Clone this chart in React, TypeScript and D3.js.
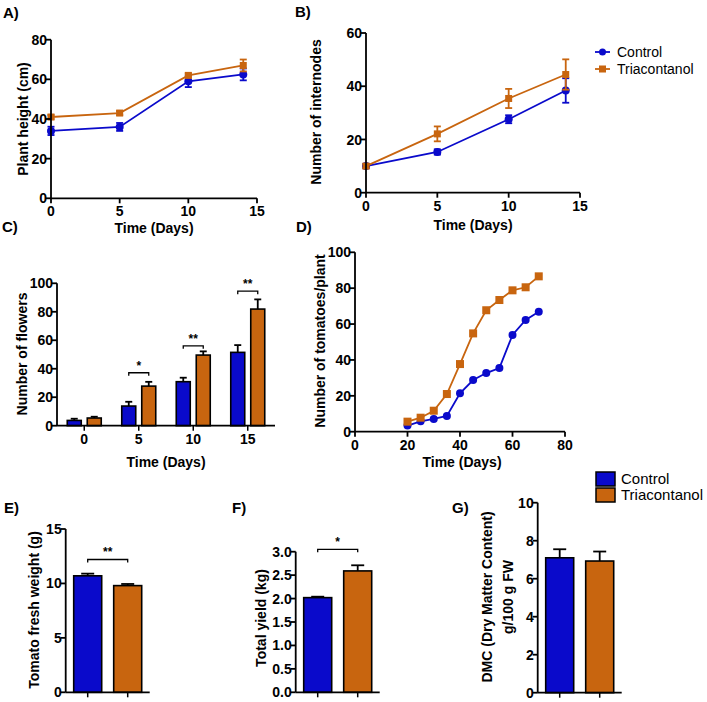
import React from 'react';
import * as d3 from 'd3';

const BLUE = '#0a0acb';
const ORANGE = '#c8650f';
const FONT = "'Liberation Sans', Arial, Helvetica, sans-serif";

// ---------- Data ----------
const seriesNames = ['Control', 'Triacontanol'];

// A) Plant height
const daysAB = [0, 5, 10, 14];
const heightControl = [34, 36, 59, 62.5];
const heightControlErr = [2.1, 2.0, 2.9, 3.0];
const heightTria = [41, 43, 62, 67];
const heightTriaErr = [1, 1, 1, 3];

// B) Internodes
const internodesControl = [10, 15.3, 27.6, 38.4];
const internodesControlErr = [0.8, 1, 1.5, 4.6];
const internodesTria = [10, 22.1, 35.4, 44.4];
const internodesTriaErr = [0.8, 2.8, 3.6, 5.7];

// C) Flowers
const flowerDays = ['0', '5', '10', '15'];
const flowersControl = [3.7, 13.8, 30.9, 51.5];
const flowersControlErr = [1.2, 3, 2.8, 5.1];
const flowersTria = [5.4, 27.8, 49.6, 81.9];
const flowersTriaErr = [0.9, 3, 2.6, 6.8];
const flowerSigDays = ['5', '10', '15'];
const flowerSigLabels = ['*', '**', '**'];
const flowerSigLevels = [37.2, 56.1, 94.5];

// D) Tomatoes per plant
const tomatoDays = [20, 25, 30, 35, 40, 45, 50, 55, 60, 65, 70];
const tomatoesControl = [3.4, 5.8, 7.1, 8.8, 21.4, 28.8, 32.7, 35.5, 53.9, 62.3, 66.9];
const tomatoesTria = [5.6, 7.8, 11.7, 21, 37.7, 54.8, 67.7, 73.4, 78.8, 80.5, 86.6];

// E) Fresh weight
const freshWeight = [10.7, 9.8];
const freshWeightErr = [0.2, 0.15];
const freshWeightSig = '**';
const freshWeightSigLevel = 12.2;

// F) Total yield
const totalYield = [2.02, 2.59];
const totalYieldErr = [0.02, 0.12];
const totalYieldSig = '*';
const totalYieldSigLevel = 3.05;

// G) DMC
const dmc = [7.1, 6.93];
const dmcErr = [0.45, 0.5];

const colors = [BLUE, ORANGE];

// ---------- Helpers ----------
type Lin = d3.ScaleLinear<number, number>;

function YAxis({ y, x0, ticks, fmt }: { y: Lin; x0: number; ticks: number[]; fmt?: (v: number) => string }) {
  const [d0, d1] = y.domain();
  return (
    <g>
      <line x1={x0} x2={x0} y1={y(d0)} y2={y(d1)} stroke="#000" strokeWidth={1.8} />
      {ticks.map((t) => (
        <g key={t}>
          <line x1={x0 - 5} x2={x0} y1={y(t)} y2={y(t)} stroke="#000" strokeWidth={1.8} />
          <text x={x0 - 4} y={y(t)} dy="0.36em" textAnchor="end" fontSize={14} fontWeight="bold">
            {fmt ? fmt(t) : String(t)}
          </text>
        </g>
      ))}
    </g>
  );
}

function XAxis({ x, y0, ticks }: { x: Lin; y0: number; ticks: number[] }) {
  const [r0, r1] = x.range();
  return (
    <g>
      <line x1={r0} x2={r1} y1={y0} y2={y0} stroke="#000" strokeWidth={1.8} />
      {ticks.map((t) => (
        <g key={t}>
          <line x1={x(t)} x2={x(t)} y1={y0} y2={y0 + 5} stroke="#000" strokeWidth={1.8} />
          <text x={x(t)} y={y0 + 18} textAnchor="middle" fontSize={14} fontWeight="bold">
            {t}
          </text>
        </g>
      ))}
    </g>
  );
}

function YTitle({ x, y, lines }: { x: number; y: number; lines: string[] }) {
  return (
    <g transform={`translate(${x},${y}) rotate(-90)`}>
      {lines.map((l, i) => (
        <text key={i} x={0} y={(i - (lines.length - 1) / 2) * 21} dy="0.36em" textAnchor="middle" fontSize={14} fontWeight="bold">
          {l}
        </text>
      ))}
    </g>
  );
}

function Marker({ cx, cy, shape, color, size }: { cx: number; cy: number; shape: string; color: string; size: number }) {
  if (shape === 'circle') return <circle cx={cx} cy={cy} r={size / 2} fill={color} />;
  return <rect x={cx - size / 2} y={cy - size / 2} width={size} height={size} fill={color} />;
}

function LineSeries({
  xs, ys, errs, x, y, color, shape, size, lw,
}: {
  xs: number[]; ys: number[]; errs?: number[]; x: Lin; y: Lin; color: string; shape: string; size: number; lw: number;
}) {
  const pts = xs.map((d, i) => [d, ys[i]] as [number, number]);
  const path = d3.line<[number, number]>().x((d) => x(d[0])).y((d) => y(d[1]))(pts) || '';
  return (
    <g>
      <path d={path} fill="none" stroke={color} strokeWidth={lw} />
      {errs &&
        pts.map((p, i) => {
          const cx = x(p[0]);
          const top = y(p[1] + errs[i]);
          const bot = y(p[1] - errs[i]);
          return (
            <g key={'e' + i} stroke={color} strokeWidth={1.8}>
              <line x1={cx} x2={cx} y1={top} y2={bot} />
              <line x1={cx - 3.5} x2={cx + 3.5} y1={top} y2={top} />
              <line x1={cx - 3.5} x2={cx + 3.5} y1={bot} y2={bot} />
            </g>
          );
        })}
      {pts.map((p, i) => (
        <Marker key={i} cx={x(p[0])} cy={y(p[1])} shape={shape} color={color} size={size} />
      ))}
    </g>
  );
}

function Bar({ x0, w, y, v, e, color, cap }: { x0: number; w: number; y: Lin; v: number; e: number; color: string; cap: number }) {
  const cx = x0 + w / 2;
  return (
    <g>
      <line x1={cx} x2={cx} y1={y(v)} y2={y(v + e)} stroke="#000" strokeWidth={1.8} />
      <line x1={cx - cap / 2} x2={cx + cap / 2} y1={y(v + e)} y2={y(v + e)} stroke="#000" strokeWidth={1.8} />
      <rect x={x0} y={y(v)} width={w} height={y(0) - y(v)} fill={color} stroke="#000" strokeWidth={1.6} />
    </g>
  );
}

function SigBracket({ x1, x2, yy, label }: { x1: number; x2: number; yy: number; label: string }) {
  return (
    <g>
      <path d={`M${x1},${yy + 3}V${yy}H${x2}V${yy + 3}`} fill="none" stroke="#000" strokeWidth={1.3} />
      <text x={(x1 + x2) / 2} y={yy - 3} textAnchor="middle" fontSize={12} fontWeight="bold">
        {label}
      </text>
    </g>
  );
}

function TwoBarPanel({
  x0, y, values, errs, yTicks, fmt, sig, sigLevel,
}: {
  x0: number; y: Lin; values: number[]; errs: number[]; yTicks: number[]; fmt?: (v: number) => string; sig?: string; sigLevel?: number;
}) {
  const xb = d3.scaleBand<string>().domain(seriesNames).range([x0, x0 + 84]).paddingInner(0.3).paddingOuter(0.2);
  const w = xb.bandwidth();
  const y0 = y(0);
  return (
    <g>
      {seriesNames.map((s, i) => (
        <Bar key={s} x0={xb(s)!} w={w} y={y} v={values[i]} e={errs[i]} color={colors[i]} cap={13} />
      ))}
      <YAxis y={y} x0={x0} ticks={yTicks} fmt={fmt} />
      <line x1={x0} x2={x0 + 84} y1={y0} y2={y0} stroke="#000" strokeWidth={1.8} />
      {seriesNames.map((s) => (
        <line key={s} x1={xb(s)! + w / 2} x2={xb(s)! + w / 2} y1={y0} y2={y0 + 5} stroke="#000" strokeWidth={1.5} />
      ))}
      {sig && sigLevel !== undefined && (
        <SigBracket x1={xb(seriesNames[0])! + w / 2} x2={xb(seriesNames[1])! + w / 2} yy={y(sigLevel)} label={sig} />
      )}
    </g>
  );
}

function PanelLabel({ x, y, t }: { x: number; y: number; t: string }) {
  return (
    <text x={x} y={y} fontSize={15} fontWeight="bold">
      {t}
    </text>
  );
}

export default function App() {
  // A
  const xA = d3.scaleLinear().domain([0, 15]).range([51, 257]);
  const yA = d3.scaleLinear().domain([0, 80]).range([198.3, 39.7]);
  // B
  const xB = d3.scaleLinear().domain([0, 15]).range([366, 580]);
  const yB = d3.scaleLinear().domain([0, 60]).range([192.7, 33]);
  // C
  const xC = d3.scaleBand<string>().domain(flowerDays).range([57, 275]).padding(0);
  const xCin = d3.scaleBand<string>().domain(seriesNames).range([-17, 17]).paddingInner(0.3).paddingOuter(0);
  const yC = d3.scaleLinear().domain([0, 100]).range([425.7, 283.3]);
  const cCenter = (c: string) => xC(c)! + xC.bandwidth() / 2;
  const flowersVals = [flowersControl, flowersTria];
  const flowersErrs = [flowersControlErr, flowersTriaErr];
  // D
  const xD = d3.scaleLinear().domain([0, 80]).range([355, 565]);
  const yD = d3.scaleLinear().domain([0, 100]).range([431.7, 252.3]);
  // E, F, G
  const yE = d3.scaleLinear().domain([0, 15]).range([692.3, 529]);
  const yF = d3.scaleLinear().domain([0, 3]).range([692.3, 551.7]);
  const yG = d3.scaleLinear().domain([0, 10]).range([692.7, 502.7]);

  return (
    <svg
      width={707}
      height={702}
      style={{ position: 'absolute', left: 0, top: 0, background: '#fff', display: 'block' }}
      fontFamily={FONT}
    >
      <rect x={0} y={0} width={707} height={702} fill="#fff" />

      {/* ---------- A ---------- */}
      <PanelLabel x={3} y={18} t="A)" />
      <LineSeries xs={daysAB} ys={heightControl} errs={heightControlErr} x={xA} y={yA} color={BLUE} shape="circle" size={8} lw={1.8} />
      <LineSeries xs={daysAB} ys={heightTria} errs={heightTriaErr} x={xA} y={yA} color={ORANGE} shape="square" size={7} lw={1.8} />
      <YAxis y={yA} x0={51} ticks={[0, 20, 40, 60, 80]} />
      <XAxis x={xA} y0={198.3} ticks={[0, 5, 10, 15]} />
      <YTitle x={23} y={119} lines={['Plant height (cm)']} />
      <text x={154} y={233} textAnchor="middle" fontSize={14} fontWeight="bold">Time (Days)</text>

      {/* ---------- B ---------- */}
      <PanelLabel x={295} y={17} t="B)" />
      <LineSeries xs={daysAB} ys={internodesControl} errs={internodesControlErr} x={xB} y={yB} color={BLUE} shape="circle" size={8} lw={1.8} />
      <LineSeries xs={daysAB} ys={internodesTria} errs={internodesTriaErr} x={xB} y={yB} color={ORANGE} shape="square" size={7} lw={1.8} />
      <YAxis y={yB} x0={366} ticks={[0, 20, 40, 60]} />
      <XAxis x={xB} y0={192.7} ticks={[0, 5, 10, 15]} />
      <YTitle x={316} y={112} lines={['Number of internodes']} />
      <text x={473} y={230} textAnchor="middle" fontSize={14} fontWeight="bold">Time (Days)</text>
      {/* legend B */}
      {seriesNames.map((s, i) => (
        <g key={s}>
          <line x1={595} x2={610} y1={52 + i * 17} y2={52 + i * 17} stroke={colors[i]} strokeWidth={1.8} />
          <Marker cx={602.5} cy={52 + i * 17} shape={i === 0 ? 'circle' : 'square'} color={colors[i]} size={7} />
          <text x={617} y={52 + i * 17} dy="0.36em" fontSize={14}>{s}</text>
        </g>
      ))}

      {/* ---------- C ---------- */}
      <PanelLabel x={2} y={232} t="C)" />
      {flowerDays.map((d, j) => (
        <g key={d}>
          {seriesNames.map((s, i) => (
            <Bar
              key={s}
              x0={cCenter(d) + xCin(s)!}
              w={xCin.bandwidth()}
              y={yC}
              v={flowersVals[i][j]}
              e={flowersErrs[i][j]}
              color={colors[i]}
              cap={7}
            />
          ))}
        </g>
      ))}
      {flowerSigDays.map((d, k) => (
        <SigBracket
          key={d}
          x1={cCenter(d) + xCin(seriesNames[0])! + xCin.bandwidth() / 2}
          x2={cCenter(d) + xCin(seriesNames[1])! + xCin.bandwidth() / 2}
          yy={yC(flowerSigLevels[k])}
          label={flowerSigLabels[k]}
        />
      ))}
      <YAxis y={yC} x0={57} ticks={[0, 20, 40, 60, 80, 100]} />
      <line x1={57} x2={275} y1={425.7} y2={425.7} stroke="#000" strokeWidth={1.8} />
      {flowerDays.map((d) => (
        <g key={d}>
          <line x1={cCenter(d)} x2={cCenter(d)} y1={425.7} y2={430.7} stroke="#000" strokeWidth={1.5} />
          <text x={cCenter(d)} y={444} textAnchor="middle" fontSize={14} fontWeight="bold">{d}</text>
        </g>
      ))}
      <YTitle x={22} y={354} lines={['Number of flowers']} />
      <text x={166} y={467} textAnchor="middle" fontSize={14} fontWeight="bold">Time (Days)</text>

      {/* ---------- D ---------- */}
      <PanelLabel x={296} y={232} t="D)" />
      <LineSeries xs={tomatoDays} ys={tomatoesControl} x={xD} y={yD} color={BLUE} shape="circle" size={8} lw={1.8} />
      <LineSeries xs={tomatoDays} ys={tomatoesTria} x={xD} y={yD} color={ORANGE} shape="square" size={8} lw={1.8} />
      <YAxis y={yD} x0={355} ticks={[0, 20, 40, 60, 80, 100]} />
      <XAxis x={xD} y0={431.7} ticks={[0, 20, 40, 60, 80]} />
      <YTitle x={320} y={341} lines={['Number of tomatoes/plant']} />
      <text x={462} y={467} textAnchor="middle" fontSize={14} fontWeight="bold">Time (Days)</text>

      {/* ---------- Legend (E-G) ---------- */}
      {seriesNames.map((s, i) => (
        <g key={s}>
          <rect x={596} y={472 + i * 16} width={19} height={14} fill={colors[i]} stroke="#000" strokeWidth={1.5} />
          <text x={621} y={479 + i * 16} dy="0.36em" fontSize={15}>{s}</text>
        </g>
      ))}

      {/* ---------- E ---------- */}
      <PanelLabel x={4} y={513} t="E)" />
      <TwoBarPanel x0={65.7} y={yE} values={freshWeight} errs={freshWeightErr} yTicks={[0, 5, 10, 15]} sig={freshWeightSig} sigLevel={freshWeightSigLevel} />
      <YTitle x={34} y={610} lines={['Tomato fresh weight (g)']} />

      {/* ---------- F ---------- */}
      <PanelLabel x={232} y={513} t="F)" />
      <TwoBarPanel x0={295.7} y={yF} values={totalYield} errs={totalYieldErr} yTicks={[0, 0.5, 1, 1.5, 2, 2.5, 3]} fmt={d3.format('.1f')} sig={totalYieldSig} sigLevel={totalYieldSigLevel} />
      <YTitle x={261} y={618} lines={['Total yield (kg)']} />

      {/* ---------- G ---------- */}
      <PanelLabel x={452} y={513} t="G)" />
      <TwoBarPanel x0={537.7} y={yG} values={dmc} errs={dmcErr} yTicks={[0, 2, 4, 6, 8, 10]} />
      <YTitle x={497} y={597} lines={['DMC (Dry Matter Content)', 'g/100 g FW']} />
    </svg>
  );
}
